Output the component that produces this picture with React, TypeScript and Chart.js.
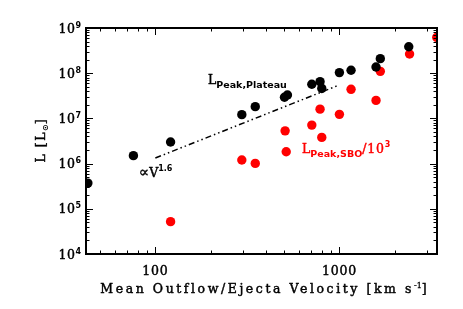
import React, { useEffect, useRef } from "react";
import { Chart, registerables } from "chart.js";
Chart.register(...registerables);

// ---- data ----
const plateauVelocity = [43, 76, 121, 295, 349, 503, 522, 708, 785, 802, 1000, 1157, 1581, 1668, 2381];
const plateauLum = [3.7e5, 1.5e6, 3.0e6, 1.21e7, 1.82e7, 2.93e7, 3.3e7, 5.7e7, 6.5e7, 4.6e7, 1.03e8, 1.16e8, 1.37e8, 2.1e8, 3.85e8];
const sboVelocity = [121, 295, 349, 507, 514, 708, 785, 802, 1000, 1157, 1581, 1668, 2405, 3380];
const sboLum = [5.2e4, 1.2e6, 1.01e6, 5.3e6, 1.83e6, 7.1e6, 1.6e7, 3.8e6, 1.23e7, 4.4e7, 2.5e7, 1.1e8, 2.66e8, 6.2e8];
const fitVelocity = [100, 1000];
const fitLum = [1.33e6, 5.5e7];

const xMajorTicks = [100, 1000];
const xMajorLabels = ["100", "1000"];
const xMinorTicks = [50, 60, 70, 80, 90, 200, 300, 400, 500, 600, 700, 800, 900, 2000, 3000];
const yMajorTicks = [1e4, 1e5, 1e6, 1e7, 1e8, 1e9];
const yMajorExponents = ["4", "5", "6", "7", "8", "9"];
const yMinorFactors = [2, 3, 4, 5, 6, 7, 8, 9];

const X_MIN = 42;
const X_MAX = 3390;
const Y_MIN = 1e4;
const Y_MAX = 1e9;

const SERIF = "'DejaVu Serif', 'Liberation Serif', serif";
const SANS = "'DejaVu Sans', 'Liberation Sans', sans-serif";
const MAIN = `12.5px ${SERIF}`;
const EMBOLDEN = 0.45;

type Seg = { t: string; font: string; dy?: number; ls?: number; sw?: number };

function richWidth(ctx: CanvasRenderingContext2D, segs: Seg[]) {
  let w = 0;
  for (const s of segs) {
    ctx.font = s.font;
    (ctx as any).letterSpacing = (s.ls || 0) + "px";
    w += ctx.measureText(s.t).width;
  }
  return w;
}

function drawRich(ctx: CanvasRenderingContext2D, segs: Seg[], x: number, y: number, align: "left" | "center" | "right", color: string) {
  const w = richWidth(ctx, segs);
  let cx = align === "left" ? x : align === "center" ? x - w / 2 : x - w;
  ctx.fillStyle = color;
  ctx.strokeStyle = color;
  ctx.textAlign = "left";
  ctx.textBaseline = "alphabetic";
  for (const s of segs) {
    ctx.font = s.font;
    (ctx as any).letterSpacing = (s.ls || 0) + "px";
    ctx.fillText(s.t, cx, y + (s.dy || 0));
    const sw = s.sw === undefined ? EMBOLDEN : s.sw;
    if (sw > 0) {
      ctx.lineWidth = sw;
      ctx.strokeText(s.t, cx, y + (s.dy || 0));
    }
    cx += ctx.measureText(s.t).width;
  }
  (ctx as any).letterSpacing = "0px";
}

const decorPlugin = {
  id: "decor",
  afterDatasetsDraw(chart: any) {
    const ctx: CanvasRenderingContext2D = chart.ctx;
    const xs = chart.scales.x;
    const ys = chart.scales.y;
    const a = chart.chartArea;
    ctx.save();
    ctx.strokeStyle = "#000";

    // ticks
    ctx.lineWidth = 1;
    const tick = (p: number, len: number, horizontal: boolean) => {
      ctx.beginPath();
      if (horizontal) {
        ctx.moveTo(p, a.bottom); ctx.lineTo(p, a.bottom - len);
        ctx.moveTo(p, a.top); ctx.lineTo(p, a.top + len);
      } else {
        ctx.moveTo(a.left, p); ctx.lineTo(a.left + len, p);
        ctx.moveTo(a.right, p); ctx.lineTo(a.right - len, p);
      }
      ctx.stroke();
    };
    xMajorTicks.forEach((v) => tick(Math.round(xs.getPixelForValue(v)) + 0.5, 7, true));
    xMinorTicks.forEach((v) => {
      if (v > X_MIN && v < X_MAX) tick(Math.round(xs.getPixelForValue(v)) + 0.5, 3.5, true);
    });
    yMajorTicks.forEach((v) => tick(Math.round(ys.getPixelForValue(v)) + 0.5, 7, false));
    yMajorTicks.forEach((v) => {
      if (v >= Y_MAX) return;
      yMinorFactors.forEach((f) => tick(Math.round(ys.getPixelForValue(v * f)) + 0.5, 3.5, false));
    });

    // frame
    ctx.lineWidth = 2;
    ctx.strokeRect(a.left, a.top, a.right - a.left, a.bottom - a.top);

    // tick labels
    xMajorTicks.forEach((v, i) => {
      drawRich(ctx, [{ t: xMajorLabels[i], font: MAIN, ls: 0.8 }], xs.getPixelForValue(v), a.bottom + 21, "center", "#000");
    });
    yMajorTicks.forEach((v, i) => {
      const py = ys.getPixelForValue(v);
      drawRich(
        ctx,
        [
          { t: "10", font: MAIN, ls: 0.5 },
          { t: yMajorExponents[i], font: `bold 8px ${SANS}`, dy: -5, sw: 0 },
        ],
        a.left - 5,
        py + 4.5,
        "right",
        "#000"
      );
    });

    // x title, letter-spaced to span the reference width
    const base = "Mean Outflow/Ejecta Velocity [km s";
    ctx.font = MAIN;
    (ctx as any).letterSpacing = "0px";
    const targetW = 326;
    const rest: Seg[] = [
      { t: "-1", font: `8px ${SERIF}`, dy: -5, sw: 0.3 },
      { t: "]", font: MAIN },
    ];
    const natural = ctx.measureText(base).width + richWidth(ctx, rest);
    const ls = Math.max(0, (targetW - natural) / base.length);
    const xTitle: Seg[] = [{ t: base, font: MAIN, ls }, ...rest];
    drawRich(ctx, xTitle, (a.left + a.right) / 2 + 2, a.bottom + 39, "center", "#000");

    // y title (rotated)
    ctx.save();
    ctx.translate(45, (a.top + a.bottom) / 2);
    ctx.rotate(-Math.PI / 2);
    drawRich(
      ctx,
      [
        { t: "L [L", font: MAIN, ls: 1.5 },
        { t: "\u2299", font: `bold 8px ${SANS}`, dy: 2.5, sw: 0 },
        { t: "]", font: MAIN },
      ],
      0,
      0,
      "center",
      "#000"
    );
    ctx.restore();

    // annotations
    drawRich(
      ctx,
      [
        { t: "L", font: MAIN },
        { t: "Peak,Plateau", font: `bold 9.5px ${SANS}`, dy: 4, sw: 0 },
      ],
      208,
      84,
      "left",
      "#000"
    );
    drawRich(
      ctx,
      [
        { t: "\u221D", font: `15px ${SERIF}`, dy: 0 },
        { t: "V", font: MAIN },
        { t: "1.6", font: `bold 8px ${SANS}`, dy: -6, sw: 0 },
      ],
      139,
      177,
      "left",
      "#000"
    );
    drawRich(
      ctx,
      [
        { t: "L", font: MAIN },
        { t: "Peak,SBO", font: `bold 9.5px ${SANS}`, dy: 4, sw: 0 },
        { t: "/10", font: MAIN, ls: 0.8 },
        { t: "3", font: `bold 8px ${SANS}`, dy: -6, sw: 0 },
      ],
      302,
      153,
      "left",
      "#ff0000"
    );
    ctx.restore();
  },
};

export default function App() {
  const ref = useRef<HTMLCanvasElement | null>(null);
  useEffect(() => {
    if (!ref.current) return;
    const toXY = (xs: number[], ys: number[]) => xs.map((x, i) => ({ x, y: ys[i] }));
    const chart = new Chart(ref.current, {
      type: "scatter",
      data: {
        datasets: [
          {
            label: "fit",
            data: toXY(fitVelocity, fitLum),
            showLine: true,
            borderColor: "#000",
            borderWidth: 1.5,
            borderDash: [6, 3, 1.5, 3, 1.5, 3],
            pointRadius: 0,
            clip: 0,
          } as any,
          {
            label: "LPeak,Plateau",
            data: toXY(plateauVelocity, plateauLum),
            backgroundColor: "#000",
            borderWidth: 0,
            pointRadius: 4.7,
            clip: 0,
          },
          {
            label: "LPeak,SBO/10^3",
            data: toXY(sboVelocity, sboLum),
            backgroundColor: "#ff0000",
            borderWidth: 0,
            pointRadius: 4.7,
            clip: 0,
          },
        ],
      },
      options: {
        responsive: false,
        animation: false,
        layout: { padding: { left: 86, top: 28, right: 26, bottom: 55 } },
        plugins: { legend: { display: false }, tooltip: { enabled: false } },
        scales: {
          x: { type: "logarithmic", min: X_MIN, max: X_MAX, display: false },
          y: { type: "logarithmic", min: Y_MIN, max: Y_MAX, display: false },
        },
      },
      plugins: [decorPlugin],
    });
    return () => chart.destroy();
  }, []);
  return (
    <div style={{ position: "fixed", left: 0, top: 0, width: 463, height: 309, background: "#fff" }}>
      <canvas ref={ref} width={463} height={309} />
    </div>
  );
}
